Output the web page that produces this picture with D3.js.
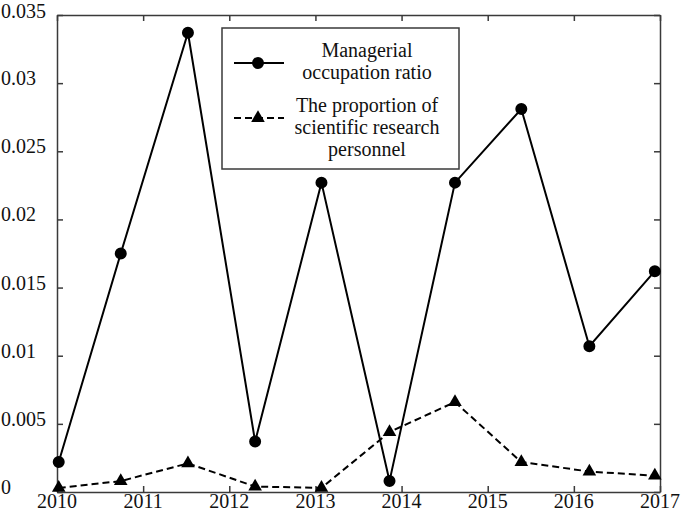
<!DOCTYPE html>
<html>
<head>
<meta charset="utf-8">
<script src="https://cdn.jsdelivr.net/npm/d3@7"></script>
<style>
  body { margin: 0; background: #fff; }
</style>
</head>
<body>
<script>
// data
let xValues = [2010.02, 2010.74, 2011.52, 2012.30, 2013.07, 2013.86, 2014.62, 2015.39, 2016.18, 2016.94];
let managerial = [0.0022, 0.0175, 0.0337, 0.0037, 0.0227, 0.0008, 0.0227, 0.0281, 0.0107, 0.0162];
let research = [0.0003, 0.0008, 0.0021, 0.0004, 0.0003, 0.0044, 0.0066, 0.0022, 0.0015, 0.0012];
let xTicks = [2010, 2011, 2012, 2013, 2014, 2015, 2016, 2017];
let yTicks = [0, 0.005, 0.01, 0.015, 0.02, 0.025, 0.03, 0.035];
let seriesNames = [["Managerial", "occupation ratio"], ["The proportion of", "scientific research", "personnel"]];

//set up size and margin
let W = 685, H = 512;
let margin = { top: 15, right: 25, bottom: 20, left: 57 };
let width = W - margin.left - margin.right;
let height = H - margin.top - margin.bottom;
let serif = "DejaVu Serif";

const svg = d3.select("body").append("svg")
  .attr("width", W)
  .attr("height", H)
  .style("font-family", "'Liberation Serif', 'DejaVu Serif', serif");

let xScale = d3.scaleLinear().domain([2010, 2017]).range([margin.left, margin.left + width]);
let yScale = d3.scaleLinear().domain([0, 0.035]).range([margin.top + height, margin.top]);

let axisColor = "#3a3a3a";
let tickLen = 6;

//frame ticks (inward on all four sides)
let bottomAxis = d3.axisBottom(xScale).tickValues(xTicks).tickSizeInner(-tickLen).tickSizeOuter(0).tickFormat("");
let topAxis = d3.axisTop(xScale).tickValues(xTicks).tickSizeInner(-tickLen).tickSizeOuter(0).tickFormat("");
let leftAxis = d3.axisLeft(yScale).tickValues(yTicks).tickSizeInner(-tickLen).tickSizeOuter(0).tickFormat("");
let rightAxis = d3.axisRight(yScale).tickValues(yTicks).tickSizeInner(-tickLen).tickSizeOuter(0).tickFormat("");

[[bottomAxis, "translate(0," + (margin.top + height) + ")"],
 [topAxis, "translate(0," + margin.top + ")"],
 [leftAxis, "translate(" + margin.left + ",0)"],
 [rightAxis, "translate(" + (margin.left + width) + ",0)"]].forEach(a => {
  let g = svg.append("g").attr("transform", a[1]).call(a[0]);
  g.selectAll("path").attr("stroke", axisColor).attr("stroke-width", 1.5);
  g.selectAll("line").attr("stroke", axisColor).attr("stroke-width", 1.5);
});

//tick labels
svg.selectAll(".xlabel").data(xTicks).enter().append("text")
  .attr("class", "xlabel")
  .attr("x", d => xScale(d))
  .attr("y", margin.top + height + 16)
  .attr("text-anchor", "middle")
  .attr("fill", "#111")
  .style("font-size", "20px")
  .text(d => d);

svg.selectAll(".ylabel").data(yTicks).enter().append("text")
  .attr("class", "ylabel")
  .attr("x", 1)
  .attr("y", d => Math.max(yScale(d) + 2, 18))
  .attr("text-anchor", "start")
  .attr("fill", "#111")
  .style("font-size", "20px")
  .text(d => d === 0 ? "0" : d3.format("")(+d.toFixed(3)));

//lines
let pts1 = xValues.map((x, i) => [x, managerial[i]]);
let pts2 = xValues.map((x, i) => [x, research[i]]);
let line = d3.line().x(d => xScale(d[0])).y(d => yScale(d[1]));

svg.append("path").datum(pts1)
  .attr("d", line).attr("fill", "none").attr("stroke", "#000").attr("stroke-width", 2);
svg.append("path").datum(pts2)
  .attr("d", line).attr("fill", "none").attr("stroke", "#000").attr("stroke-width", 2)
  .attr("stroke-dasharray", "7,4");

let circleSym = d3.symbol().type(d3.symbolCircle).size(113);
let triSym = d3.symbol().type(d3.symbolTriangle).size(80);

svg.selectAll(".dot").data(pts1).enter().append("path")
  .attr("class", "dot")
  .attr("d", circleSym)
  .attr("transform", d => "translate(" + xScale(d[0]) + "," + yScale(d[1]) + ")")
  .attr("fill", "#000");

svg.selectAll(".tri").data(pts2).enter().append("path")
  .attr("class", "tri")
  .attr("d", triSym)
  .attr("transform", d => "translate(" + xScale(d[0]) + "," + yScale(d[1]) + ")")
  .attr("fill", "#000");

//legend
let legend = svg.append("g").attr("transform", "translate(222,28)");
legend.append("rect")
  .attr("width", 237).attr("height", 141)
  .attr("fill", "#fff").attr("stroke", axisColor).attr("stroke-width", 1.5);

legend.append("line").attr("x1", 12).attr("x2", 62).attr("y1", 35).attr("y2", 35)
  .attr("stroke", "#000").attr("stroke-width", 2);
legend.append("path").attr("d", circleSym).attr("transform", "translate(36,35)").attr("fill", "#000");

legend.append("line").attr("x1", 12).attr("x2", 62).attr("y1", 90).attr("y2", 90)
  .attr("stroke", "#000").attr("stroke-width", 2).attr("stroke-dasharray", "7,4");
legend.append("path").attr("d", triSym).attr("transform", "translate(36,90)").attr("fill", "#000");

let lineTops = [[29, 51], [84, 106, 128]];
seriesNames.forEach((lines, s) => {
  lines.forEach((t, j) => {
    legend.append("text")
      .attr("x", 145)
      .attr("y", lineTops[s][j])
      .attr("text-anchor", "middle")
      .attr("fill", "#111")
      .style("font-size", "20px")
      .text(t);
  });
});
</script>
</body>
</html>
